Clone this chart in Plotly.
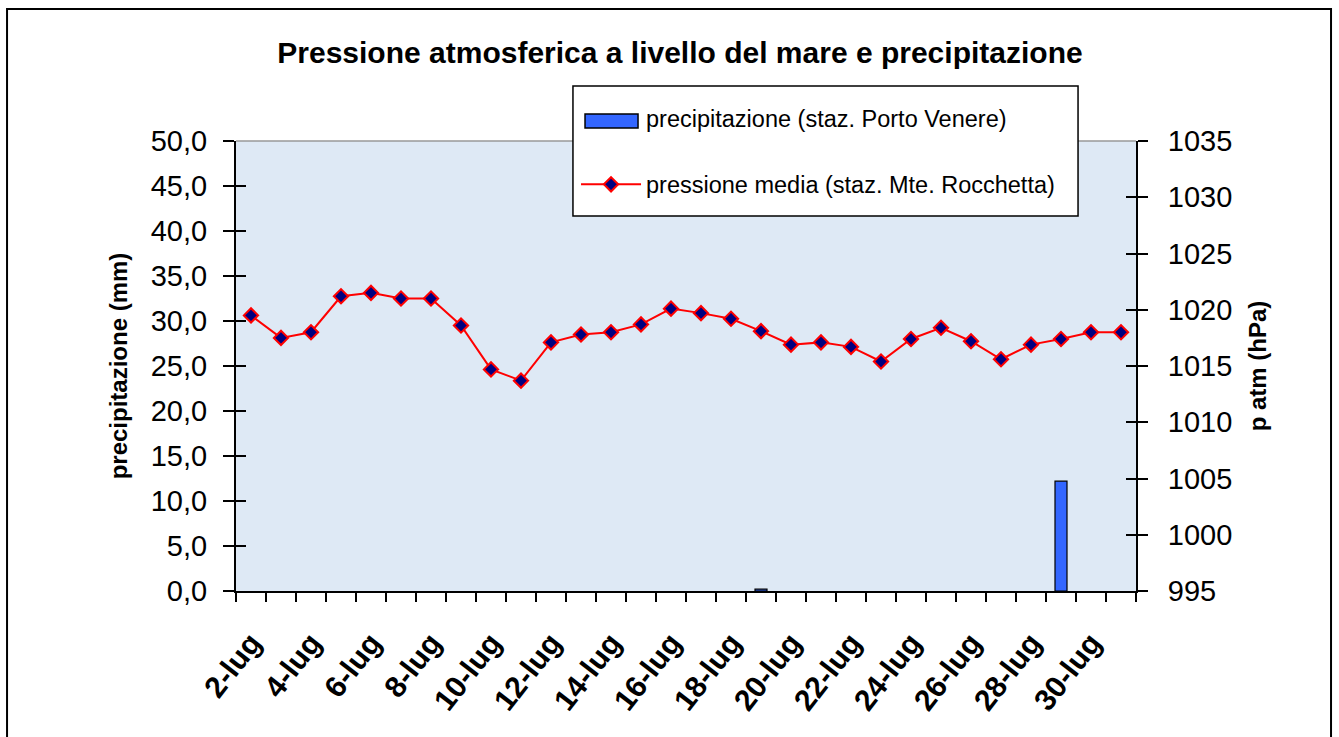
import plotly.graph_objects as go

# Giorni di luglio (2-31) e relative misure
giorni = [2, 3, 4, 5, 6, 7, 8, 9, 10, 11, 12, 13, 14, 15, 16,
          17, 18, 19, 20, 21, 22, 23, 24, 25, 26, 27, 28, 29, 30, 31]
precipitazione = [0, 0, 0, 0, 0, 0, 0, 0, 0, 0, 0, 0, 0, 0, 0,
                  0, 0, 0.2, 0, 0, 0, 0, 0, 0, 0, 0, 0, 12.2, 0, 0]
pressione = [1019.5, 1017.5, 1018.0, 1021.2, 1021.5, 1021.0, 1021.0, 1018.6,
             1014.7, 1013.7, 1017.1, 1017.8, 1018.0, 1018.7, 1020.1, 1019.7,
             1019.2, 1018.1, 1016.9, 1017.1, 1016.7, 1015.4, 1017.4, 1018.4,
             1017.2, 1015.6, 1016.9, 1017.4, 1018.0, 1018.0]
tick_giorni = [2, 4, 6, 8, 10, 12, 14, 16, 18, 20, 22, 24, 26, 28, 30]
tick_etichette = ["2-lug", "4-lug", "6-lug", "8-lug", "10-lug", "12-lug", "14-lug",
                  "16-lug", "18-lug", "20-lug", "22-lug", "24-lug", "26-lug",
                  "28-lug", "30-lug"]

FONT = "Liberation Sans, Arial, sans-serif"
BLU = "#3366ff"

fig = go.Figure()

# nessun contorno per i giorni senza pioggia
bordo = [1.2 if v > 0 else 0 for v in precipitazione]

fig.add_trace(go.Bar(
    x=giorni,
    y=precipitazione,
    width=0.4,
    name="precipitazione (staz. Porto Venere)",
    marker=dict(color=BLU, line=dict(color="black", width=bordo)),
    showlegend=False,
))

# voce di legenda per le barre (il simbolo rettangolare è disegnato a parte)
fig.add_trace(go.Scatter(
    x=[None], y=[None],
    mode="lines",
    line=dict(color="rgba(0,0,0,0)"),
    name="precipitazione (staz. Porto Venere)",
    legendgroup="a",
))

fig.add_trace(go.Scatter(
    x=giorni,
    y=pressione,
    yaxis="y2",
    mode="lines+markers",
    name="pressione media (staz. Mte. Rocchetta)",
    line=dict(color="#ff0000", width=2),
    marker=dict(symbol="diamond", size=11, color="#000080",
                line=dict(color="#ff0000", width=2)),
    legendgroup="b",
))

# tracce vuote: servono solo a far disegnare gli assi gemelli (tacche a croce)
for asse in ["y3", "y4"]:
    fig.add_trace(go.Scatter(x=[None], y=[None], yaxis=asse, mode="lines",
                             showlegend=False, hoverinfo="skip"))

# cornice esterna, bordo superiore del grafico, riquadro legenda
fig.add_shape(type="rect", xref="paper", yref="paper",
              x0=-0.2544, x1=1.2167, y0=-0.5, y1=1.2933,
              line=dict(color="black", width=2), layer="above")
fig.add_shape(type="line", xref="paper", yref="paper",
              x0=0, x1=1, y0=1, y1=1,
              line=dict(color="#999999", width=1.5))
fig.add_shape(type="rect", xref="paper", yref="paper",
              x0=0.3744, x1=0.9356, y0=0.8333, y1=1.1222,
              fillcolor="white", line=dict(color="black", width=1.5),
              layer="above")
fig.add_shape(type="rect", xref="paper", yref="paper",
              x0=0.3878, x1=0.4467, y0=1.0289, y1=1.06,
              fillcolor=BLU, line=dict(color="black", width=1.5),
              layer="above")

fig.update_layout(
    width=1339, height=737,
    margin=dict(l=236, r=203, t=141, b=146),
    paper_bgcolor="white",
    plot_bgcolor="#dee9f5",
    separators=",.",
    font=dict(family=FONT, color="black"),
    title=dict(text="<b>Pressione atmosferica a livello del mare e precipitazione</b>",
               x=0.4933, xref="paper", xanchor="center",
               y=0.929, yref="container", yanchor="middle",
               font=dict(size=30, family=FONT)),
    showlegend=True,
    legend=dict(x=0.3778, y=1.10, xanchor="left", yanchor="top",
                bgcolor="rgba(0,0,0,0)", borderwidth=0,
                font=dict(size=23.5, family=FONT),
                traceorder="grouped", tracegroupgap=33,
                itemwidth=60),
    xaxis=dict(
        range=[1.5, 31.5],
        tickmode="array", tickvals=tick_giorni, ticktext=tick_etichette,
        tickangle=-52,
        ticks="outside", ticklen=20, tickcolor="rgba(0,0,0,0)",
        tickfont=dict(size=30, family=FONT, weight="bold"),
        showgrid=False, zeroline=False, automargin=False,
        showline=True, linecolor="black", linewidth=2,
        minor=dict(ticks="outside", ticklen=9, tickwidth=1.5, tickcolor="black",
                   tick0=1.5, dtick=1, showgrid=False),
    ),
    yaxis=dict(
        range=[0, 50], dtick=5, tickformat=".1f",
        ticks="outside", ticklen=11, tickwidth=1.5, tickcolor="black",
        ticklabelstandoff=10,
        tickfont=dict(size=29, family=FONT),
        showgrid=False, zeroline=False, automargin=False,
        showline=True, linecolor="black", linewidth=2,
        title=dict(text="<b>precipitazione (mm)</b>", standoff=16,
                   font=dict(size=24, family=FONT)),
    ),
    yaxis2=dict(
        range=[995, 1035], dtick=5, tickformat=".0f",
        overlaying="y", side="right",
        ticks="outside", ticklen=10, tickwidth=1.5, tickcolor="black",
        ticklabelstandoff=14,
        tickfont=dict(size=29, family=FONT),
        showgrid=False, zeroline=False, automargin=False,
        showline=True, linecolor="black", linewidth=2,
        title=dict(text="<b>p atm (hPa)</b>", standoff=18,
                   font=dict(size=24, family=FONT)),
    ),
    # assi gemelli solo per le tacche interne
    yaxis3=dict(
        range=[0, 50], dtick=5, overlaying="y", side="left", anchor="x",
        ticks="inside", ticklen=10, tickwidth=1.5, tickcolor="black",
        showticklabels=False, showgrid=False, zeroline=False, showline=False,
    ),
    yaxis4=dict(
        range=[995, 1035], dtick=5, overlaying="y", side="right", anchor="x",
        ticks="inside", ticklen=10, tickwidth=1.5, tickcolor="black",
        showticklabels=False, showgrid=False, zeroline=False, showline=False,
    ),
)

fig.write_html("out.html", config={"displayModeBar": False},
               post_script="document.body.style.margin='0px';")
